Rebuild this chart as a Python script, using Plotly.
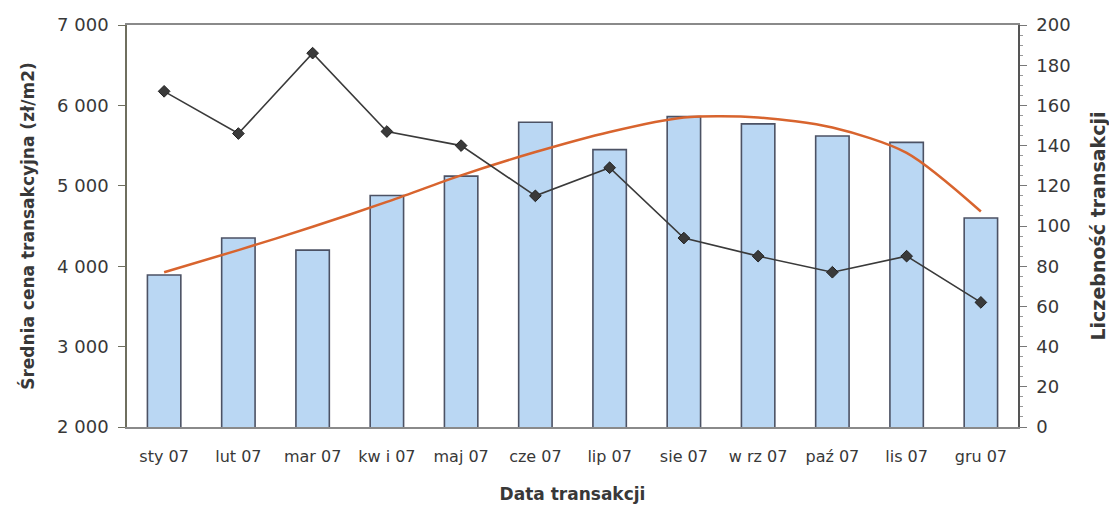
import plotly.graph_objects as go

# Monthly transaction data, 2007
months = ["sty 07", "lut 07", "mar 07", "kw i 07", "maj 07", "cze 07",
          "lip 07", "sie 07", "w rz 07", "paź 07", "lis 07", "gru 07"]
avg_price = [3890, 4350, 4200, 4880, 5120, 5790, 5450, 5860, 5770, 5620, 5540, 4600]
trend_price = [3925, 4200, 4490, 4800, 5130, 5420, 5670, 5850, 5850, 5725, 5410, 4680]
tx_count = [167, 146, 186, 147, 140, 115, 129, 94, 85, 77, 85, 62]

left_ticks = [2000, 3000, 4000, 5000, 6000, 7000]
left_tick_text = ["2 000", "3 000", "4 000", "5 000", "6 000", "7 000"]
right_ticks = list(range(0, 201, 20))

font_family = "DejaVu Sans, Liberation Sans, Arial, sans-serif"
text_color = "#383838"

fig = go.Figure()

fig.add_trace(go.Bar(
    x=months, y=avg_price, yaxis="y",
    marker=dict(color="#bad7f3", line=dict(color="#4c5264", width=1.6)),
    width=0.45, name="Średnia cena",
))

fig.add_trace(go.Scatter(
    x=months, y=trend_price, yaxis="y", mode="lines",
    line=dict(color="#d8642e", width=2.5, shape="spline", smoothing=0.8),
    name="Trend",
))

fig.add_trace(go.Scatter(
    x=months, y=tx_count, yaxis="y2", mode="lines+markers",
    line=dict(color="#3a3a3a", width=1.6),
    marker=dict(symbol="diamond", size=9, color="#3a3a3a",
                line=dict(color="#222222", width=1)),
    name="Liczebność",
))

fig.update_layout(
    width=1109, height=506,
    margin=dict(l=127, r=91, t=25, b=79, autoexpand=False),
    paper_bgcolor="white", plot_bgcolor="white",
    showlegend=False,
    font=dict(family=font_family, size=17, color=text_color),
    xaxis=dict(
        type="category", range=[-0.5, 11.5],
        showline=True, linecolor="#8a8a8a", linewidth=1.5, mirror=True,
        ticks="", showgrid=False,
        ticklabelstandoff=14,
        tickfont=dict(size=16, color=text_color),
        title=dict(text="<b>Data transakcji</b>", font=dict(size=17, color=text_color),
                   standoff=23),
    ),
    yaxis=dict(
        range=[2000, 7000],
        tickvals=left_ticks, ticktext=left_tick_text,
        showline=True, linecolor="#6f6f5f", linewidth=1.5,
        ticks="outside", ticklen=7, tickcolor="#6f6f5f",
        ticklabelstandoff=6,
        showgrid=False, zeroline=False,
        tickfont=dict(size=18, color=text_color),
        title=dict(text="<b>Średnia cena transakcyjna (zł/m2)</b>",
                   font=dict(size=17, color=text_color), standoff=18),
    ),
    yaxis2=dict(
        range=[0, 200], overlaying="y", side="right",
        tickvals=right_ticks,
        showline=True, linecolor="#555555", linewidth=1.5,
        ticks="outside", ticklen=7, tickcolor="#777777",
        minor=dict(ticks="outside", ticklen=3, dtick=5, tickcolor="#999999"),
        ticklabelstandoff=6,
        showgrid=False, zeroline=False,
        tickfont=dict(size=18, color=text_color),
        title=dict(text="<b>Liczebność transakcji</b>",
                   font=dict(size=19, color=text_color), standoff=22),
    ),
)

fig.write_html("out.html")
